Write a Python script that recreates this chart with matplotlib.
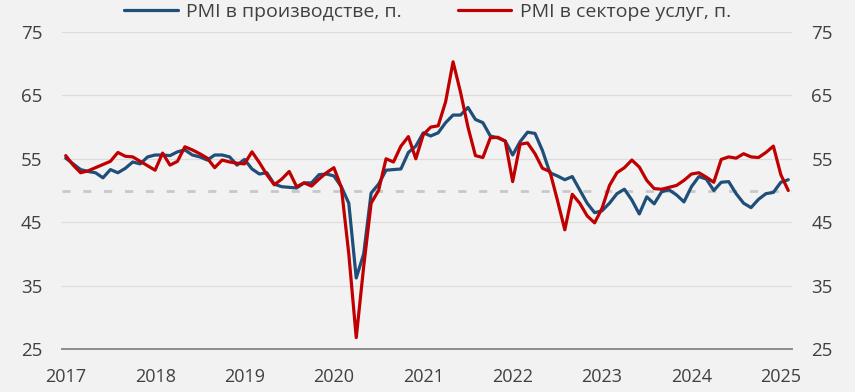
import numpy as np
import matplotlib
matplotlib.use("Agg")
import matplotlib.pyplot as plt

years = ['2017', '2018', '2019', '2020', '2021', '2022', '2023', '2024', '2025']
label_mfg = 'PMI в производстве, п.'
label_srv = 'PMI в секторе услуг, п.'

manufacturing = [
    55.1, 54.2, 53.3, 53.0, 52.8, 52.0, 53.3, 52.8, 53.5, 54.5, 54.2, 55.3,
    55.6, 55.6, 55.5, 56.1, 56.4, 55.6, 55.3, 54.8, 55.6, 55.6, 55.3, 54.0,
    54.9, 53.4, 52.6, 52.8, 51.0, 50.6, 50.5, 50.4, 51.2, 51.2, 52.5, 52.6,
    52.3, 50.6, 48.0, 36.2, 40.0, 49.6, 51.0, 53.2, 53.3, 53.4, 56.0, 57.0,
    59.1, 58.6, 59.1, 60.7, 61.9, 61.9, 63.1, 61.2, 60.7, 58.6, 58.3, 57.8,
    55.6, 57.7, 59.2, 59.0, 56.3, 52.8, 52.3, 51.7, 52.2, 50.1, 48.0, 46.5,
    46.8, 48.0, 49.5, 50.2, 48.5, 46.3, 49.0, 47.9, 49.8, 50.1, 49.3, 48.2,
    50.6, 52.2, 51.8, 50.0, 51.3, 51.4, 49.5, 48.0, 47.3, 48.6, 49.5, 49.7,
    51.3, 51.7,
]

services = [
    55.5, 54.0, 52.8, 53.1, 53.6, 54.1, 54.6, 56.0, 55.4, 55.3, 54.6, 53.9,
    53.2, 55.9, 54.0, 54.6, 56.9, 56.4, 55.8, 55.1, 53.6, 54.8, 54.5, 54.3,
    54.2, 56.1, 54.4, 52.5, 50.9, 51.8, 53.0, 50.6, 51.2, 50.7, 51.8, 52.8,
    53.6, 50.5, 40.0, 26.8, 38.0, 48.0, 50.0, 55.0, 54.5, 57.0, 58.5, 55.0,
    58.8, 60.0, 60.2, 64.0, 70.3, 65.5, 60.0, 55.5, 55.2, 58.3, 58.4, 57.8,
    51.4, 57.3, 57.5, 55.8, 53.5, 53.0, 48.5, 43.8, 49.4, 48.0, 46.0, 44.9,
    47.2, 50.8, 52.8, 53.6, 54.8, 53.7, 51.6, 50.3, 50.2, 50.5, 50.8, 51.6,
    52.6, 52.8, 52.1, 51.3, 54.9, 55.3, 55.1, 55.8, 55.3, 55.2, 56.0, 57.0,
    52.5, 50.0,
]

threshold = 50
y_ticks = [25, 35, 45, 55, 65, 75]

BG = '#f2f2f2'
BLUE = '#1f4e79'
RED = '#c00000'
TXT = '#404040'

plt.rcParams['font.family'] = ['Open Sans', 'DejaVu Sans']

fig = plt.figure(figsize=(8.55, 3.92), dpi=100, facecolor=BG)
ax = fig.add_axes([62 / 855, 43 / 392, 730 / 855, 317 / 392])
ax.set_facecolor(BG)

x = np.arange(len(manufacturing))

for yv in y_ticks[1:]:
    ax.axhline(yv, color='#dcdcdc', lw=0.9, zorder=1)
ax.axhline(threshold, color='#c8c8c8', lw=2.0, linestyle=(0, (2.9, 4.6)), zorder=1.5)

ax.plot(x, manufacturing, color=BLUE, lw=2.3, solid_joinstyle='round',
        solid_capstyle='round', label=label_mfg, zorder=3)
ax.plot(x, services, color=RED, lw=2.3, solid_joinstyle='round',
        solid_capstyle='round', label=label_srv, zorder=4)

ax.set_xlim(-0.5, len(manufacturing) - 0.5)
ax.set_ylim(25, 75)
ax.set_yticks(y_ticks)
ax.set_xticks(np.arange(0, 12 * len(years), 12))
ax.set_xticklabels(years)

for s in ['top', 'left', 'right']:
    ax.spines[s].set_visible(False)
ax.spines['bottom'].set_color('#8c8c8c')
ax.spines['bottom'].set_linewidth(1.4)

ax.tick_params(axis='y', length=0, pad=14, labelsize=13.5, labelcolor=TXT,
               labelleft=True, labelright=True)
ax.tick_params(axis='x', length=0, pad=14, labelsize=13, labelcolor=TXT)

fig.legend(loc='upper center', bbox_to_anchor=(0.5, 0.997), ncol=2, frameon=False,
           fontsize=14, labelcolor=TXT, handlelength=2.75, handletextpad=0.42,
           columnspacing=2.9, borderpad=0.1, borderaxespad=0.0)

fig.savefig('out.png', dpi=100, facecolor=BG)
